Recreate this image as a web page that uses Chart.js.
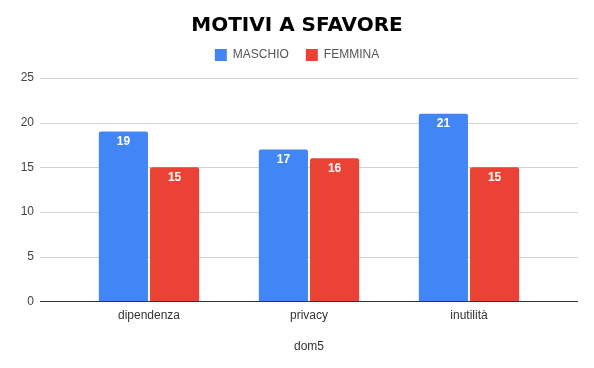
<!DOCTYPE html>
<html>
<head>
<meta charset="utf-8">
<script src="https://cdn.jsdelivr.net/npm/chart.js@4"></script>
<style>
  html, body { margin: 0; padding: 0; background: #fff; }
  #wrap { width: 594px; height: 368px; }
</style>
</head>
<body>
<div id="wrap"><canvas id="chart" width="594" height="368"></canvas></div>
<script>
/* ── Data ───────────────────────────────────────────── */
const categories = ['dipendenza', 'privacy', 'inutilità'];
const maschio    = [19, 17, 21];
const femmina    = [15, 16, 15];
const yTicks     = [0, 5, 10, 15, 20, 25];

const FONT = "'Liberation Sans', Arial, sans-serif";

/* ── Gridlines wider than the bar area ──────────────── */
function hLine(ctx, a, py, color) {
  ctx.strokeStyle = color;
  ctx.lineWidth = 1;
  ctx.beginPath();
  ctx.moveTo(a.left - 29, py);
  ctx.lineTo(a.right + 29, py);
  ctx.stroke();
}
const wideGrid = {
  id: 'wideGrid',
  beforeDatasetsDraw(chart) {
    const { ctx, chartArea: a, scales: { y } } = chart;
    ctx.save();
    yTicks.forEach(v => {
      if (v !== 0) hLine(ctx, a, Math.round(y.getPixelForValue(v)) + 0.5, '#d3d3d3');
    });
    ctx.restore();
  },
  afterDatasetsDraw(chart) {
    const { ctx, chartArea: a, scales: { y } } = chart;
    ctx.save();
    hLine(ctx, a, Math.round(y.getPixelForValue(0)) + 0.5, '#333');
    ctx.restore();
  }
};

/* ── Value labels inside bar tops ───────────────────── */
const barLabels = {
  id: 'barLabels',
  afterDatasetsDraw(chart) {
    const { ctx } = chart;
    ctx.save();
    ctx.fillStyle = '#fff';
    ctx.font = `bold 12px ${FONT}`;
    ctx.textAlign = 'center';
    ctx.textBaseline = 'middle';
    chart.data.datasets.forEach((ds, i) => {
      chart.getDatasetMeta(i).data.forEach((bar, j) => {
        ctx.fillText(ds.data[j], bar.x, bar.y + 10);
      });
    });
    ctx.restore();
  }
};

// empty spacer axes, only used to reserve room around the plot
const spacer = size => ({
  display: true,
  grid: { display: false, drawTicks: false },
  border: { display: false },
  ticks: { display: false },
  afterFit: s => { if (s.isHorizontal()) s.height = size; else s.width = size; }
});

/* ── Chart ──────────────────────────────────────────── */
new Chart(document.getElementById('chart'), {
  type: 'bar',
  data: {
    labels: categories,
    datasets: [
      { label: 'MASCHIO', data: maschio, backgroundColor: '#4285f4', borderRadius: 2, borderSkipped: 'bottom' },
      { label: 'FEMMINA', data: femmina, backgroundColor: '#ea4335', borderRadius: 2, borderSkipped: 'bottom' }
    ]
  },
  options: {
    responsive: false,
    animation: false,
    categoryPercentage: 0.64,
    barPercentage: 0.96,
    layout: { padding: { left: 0, right: 0, top: 0, bottom: 14 } },
    plugins: {
      title: {
        display: true,
        text: 'MOTIVI A SFAVORE',
        color: '#000',
        font: { family: "'DejaVu Sans', sans-serif", size: 20, weight: 'bold' },
        padding: { top: 14, bottom: -6 }
      },
      legend: {
        labels: {
          color: '#555',
          font: { family: FONT, size: 12 },
          boxWidth: 12, boxHeight: 12, padding: 17
        }
      },
      tooltip: { enabled: false }
    },
    scales: {
      x: {
        grid: { display: false, drawTicks: false },
        border: { display: false },
        ticks: { color: '#333', font: { family: FONT, size: 12 }, padding: 7 },
        title: { display: true, text: 'dom5', color: '#333', font: { family: FONT, size: 12 }, padding: { top: 10, bottom: 0 } }
      },
      y: {
        min: 0, max: 25,
        afterBuildTicks: s => { s.ticks = yTicks.map(v => ({ value: v })); },
        afterFit: s => { s.width = 69; },
        grid: { display: false, drawTicks: false },
        border: { display: false },
        ticks: { color: '#444', font: { family: FONT, size: 12 }, padding: 35 }
      },
      xTop: Object.assign({ type: 'category', position: 'top' }, spacer(7)),
      yRight: Object.assign({ type: 'linear', position: 'right' }, spacer(45))
    }
  },
  plugins: [wideGrid, barLabels]
});
</script>
</body>
</html>
